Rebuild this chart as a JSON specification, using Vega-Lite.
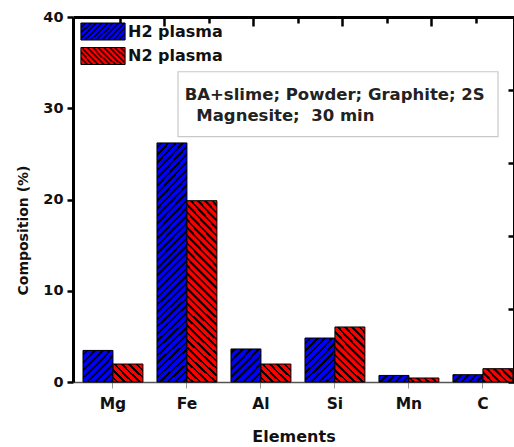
{
  "$schema": "https://vega.github.io/schema/vega-lite/v6.json",
  "width": 441,
  "height": 365,
  "autosize": {"type": "none"},
  "padding": {"left": 73, "top": 17, "right": 0, "bottom": 65},
  "config": {
    "view": {"stroke": null},
    "axis": {"grid": false}
  },
  "layer": [
    {
      "data": {
        "values": [
          {"Element": "Mg", "Plasma": "H2 plasma", "Composition": 3.46},
          {"Element": "Mg", "Plasma": "N2 plasma", "Composition": 1.97},
          {"Element": "Fe", "Plasma": "H2 plasma", "Composition": 26.2},
          {"Element": "Fe", "Plasma": "N2 plasma", "Composition": 19.87},
          {"Element": "Al", "Plasma": "H2 plasma", "Composition": 3.62},
          {"Element": "Al", "Plasma": "N2 plasma", "Composition": 1.97},
          {"Element": "Si", "Plasma": "H2 plasma", "Composition": 4.82},
          {"Element": "Si", "Plasma": "N2 plasma", "Composition": 6.03},
          {"Element": "Mn", "Plasma": "H2 plasma", "Composition": 0.72},
          {"Element": "Mn", "Plasma": "N2 plasma", "Composition": 0.44},
          {"Element": "C", "Plasma": "H2 plasma", "Composition": 0.8},
          {"Element": "C", "Plasma": "N2 plasma", "Composition": 1.46}
        ]
      },
      "mark": {"type": "bar", "stroke": "#000", "strokeWidth": 1},
      "encoding": {
        "x": {
          "field": "Element", "type": "nominal",
          "sort": ["Mg", "Fe", "Al", "Si", "Mn", "C"],
          "scale": {"paddingInner": 0.19, "paddingOuter": 0.075, "align": 0.9},
          "axis": {
            "title": "Elements", "labelAngle": 0,
            "labelFont": "DejaVu Sans", "labelFontWeight": "bold", "labelFontSize": 15.5, "labelColor": "#111", "labelPadding": 8,
            "tickSize": 6, "tickWidth": 1, "tickColor": "#999",
            "domainColor": "#555", "domainWidth": 1.5,
            "titleFont": "DejaVu Sans", "titleFontWeight": "bold", "titleFontSize": 16, "titleColor": "#111", "titlePadding": 17
          }
        },
        "xOffset": {"field": "Plasma", "type": "nominal", "sort": ["H2 plasma", "N2 plasma"]},
        "y": {
          "field": "Composition", "type": "quantitative",
          "scale": {"domain": [0, 40], "nice": false},
          "axis": {
            "title": "Composition (%)", "values": [0, 10, 20, 30, 40],
            "labelFont": "DejaVu Sans", "labelFontWeight": "bold", "labelFontSize": 14.5, "labelColor": "#111", "labelPadding": 4,
            "tickSize": 6, "tickWidth": 2.5, "tickColor": "#000",
            "domainColor": "#000", "domainWidth": 3,
            "titleFont": "DejaVu Sans", "titleFontWeight": "bold", "titleFontSize": 14, "titleColor": "#111", "titlePadding": 12, "titleY": 213
          }
        },
        "fill": {
          "field": "Plasma", "type": "nominal",
          "scale": {
            "domain": ["H2 plasma", "N2 plasma"],
            "range": [
              {"expr": "{gradient:'radial',x1:-6,y1:-6,r1:0,x2:-6,y2:-6,r2:10,stops:[{offset:0.87585,color:'#00f'},{offset:0.87585,color:'#000'},{offset:0.879,color:'#000'},{offset:0.879,color:'#00f'},{offset:0.88485,color:'#00f'},{offset:0.88485,color:'#000'},{offset:0.888,color:'#000'},{offset:0.888,color:'#00f'},{offset:0.89385,color:'#00f'},{offset:0.89385,color:'#000'},{offset:0.897,color:'#000'},{offset:0.897,color:'#00f'},{offset:0.90285,color:'#00f'},{offset:0.90285,color:'#000'},{offset:0.906,color:'#000'},{offset:0.906,color:'#00f'},{offset:0.91185,color:'#00f'},{offset:0.91185,color:'#000'},{offset:0.915,color:'#000'},{offset:0.915,color:'#00f'},{offset:0.92085,color:'#00f'},{offset:0.92085,color:'#000'},{offset:0.924,color:'#000'},{offset:0.924,color:'#00f'},{offset:0.92985,color:'#00f'},{offset:0.92985,color:'#000'},{offset:0.933,color:'#000'},{offset:0.933,color:'#00f'},{offset:0.93885,color:'#00f'},{offset:0.93885,color:'#000'},{offset:0.942,color:'#000'},{offset:0.942,color:'#00f'},{offset:0.94785,color:'#00f'},{offset:0.94785,color:'#000'},{offset:0.951,color:'#000'},{offset:0.951,color:'#00f'},{offset:0.95685,color:'#00f'},{offset:0.95685,color:'#000'},{offset:0.96,color:'#000'},{offset:0.96,color:'#00f'},{offset:0.96585,color:'#00f'},{offset:0.96585,color:'#000'}]}"},
              {"expr": "{gradient:'radial',x1:7,y1:-6,r1:0,x2:7,y2:-6,r2:10,stops:[{offset:0.87585,color:'#f00'},{offset:0.87585,color:'#000'},{offset:0.879,color:'#000'},{offset:0.879,color:'#f00'},{offset:0.88485,color:'#f00'},{offset:0.88485,color:'#000'},{offset:0.888,color:'#000'},{offset:0.888,color:'#f00'},{offset:0.89385,color:'#f00'},{offset:0.89385,color:'#000'},{offset:0.897,color:'#000'},{offset:0.897,color:'#f00'},{offset:0.90285,color:'#f00'},{offset:0.90285,color:'#000'},{offset:0.906,color:'#000'},{offset:0.906,color:'#f00'},{offset:0.91185,color:'#f00'},{offset:0.91185,color:'#000'},{offset:0.915,color:'#000'},{offset:0.915,color:'#f00'},{offset:0.92085,color:'#f00'},{offset:0.92085,color:'#000'},{offset:0.924,color:'#000'},{offset:0.924,color:'#f00'},{offset:0.92985,color:'#f00'},{offset:0.92985,color:'#000'},{offset:0.933,color:'#000'},{offset:0.933,color:'#f00'},{offset:0.93885,color:'#f00'},{offset:0.93885,color:'#000'},{offset:0.942,color:'#000'},{offset:0.942,color:'#f00'},{offset:0.94785,color:'#f00'},{offset:0.94785,color:'#000'},{offset:0.951,color:'#000'},{offset:0.951,color:'#f00'},{offset:0.95685,color:'#f00'},{offset:0.95685,color:'#000'},{offset:0.96,color:'#000'},{offset:0.96,color:'#f00'},{offset:0.96585,color:'#f00'},{offset:0.96585,color:'#000'}]}"}
            ]
          },
          "legend": {
            "orient": "none", "legendX": 21, "legendY": 5.5, "title": null, "padding": 0,
            "symbolType": "M-2.6,-1H2.6V1H-2.6Z", "symbolSize": 289,
            "symbolStrokeColor": "#000", "symbolStrokeWidth": 1, "symbolOpacity": 1,
            "labelFont": "DejaVu Sans", "labelFontWeight": "bold", "labelFontSize": 16, "labelColor": "#111",
            "labelOffset": 16, "rowPadding": 2.5
          },
          "condition": [
            {"test": "datum.Plasma === 'H2 plasma' && datum.Composition > 20", "value": {"gradient": "radial", "x1": -6, "y1": -6, "r1": 0, "x2": -6, "y2": -6, "r2": 10, "stops": [
              {"offset": 0.88093, "color": "#00f"}, {"offset": 0.88093, "color": "#000"}, {"offset": 0.8817, "color": "#000"}, {"offset": 0.8817, "color": "#00f"},
              {"offset": 0.88313, "color": "#00f"}, {"offset": 0.88313, "color": "#000"}, {"offset": 0.8839, "color": "#000"}, {"offset": 0.8839, "color": "#00f"},
              {"offset": 0.88533, "color": "#00f"}, {"offset": 0.88533, "color": "#000"}, {"offset": 0.8861, "color": "#000"}, {"offset": 0.8861, "color": "#00f"},
              {"offset": 0.88753, "color": "#00f"}, {"offset": 0.88753, "color": "#000"}, {"offset": 0.8883, "color": "#000"}, {"offset": 0.8883, "color": "#00f"},
              {"offset": 0.88973, "color": "#00f"}, {"offset": 0.88973, "color": "#000"}, {"offset": 0.8905, "color": "#000"}, {"offset": 0.8905, "color": "#00f"},
              {"offset": 0.89193, "color": "#00f"}, {"offset": 0.89193, "color": "#000"}, {"offset": 0.8927, "color": "#000"}, {"offset": 0.8927, "color": "#00f"},
              {"offset": 0.89413, "color": "#00f"}, {"offset": 0.89413, "color": "#000"}, {"offset": 0.8949, "color": "#000"}, {"offset": 0.8949, "color": "#00f"},
              {"offset": 0.89633, "color": "#00f"}, {"offset": 0.89633, "color": "#000"}, {"offset": 0.8971, "color": "#000"}, {"offset": 0.8971, "color": "#00f"},
              {"offset": 0.89853, "color": "#00f"}, {"offset": 0.89853, "color": "#000"}, {"offset": 0.8993, "color": "#000"}, {"offset": 0.8993, "color": "#00f"},
              {"offset": 0.90073, "color": "#00f"}, {"offset": 0.90073, "color": "#000"}, {"offset": 0.9015, "color": "#000"}, {"offset": 0.9015, "color": "#00f"},
              {"offset": 0.90293, "color": "#00f"}, {"offset": 0.90293, "color": "#000"}, {"offset": 0.9037, "color": "#000"}, {"offset": 0.9037, "color": "#00f"},
              {"offset": 0.90513, "color": "#00f"}, {"offset": 0.90513, "color": "#000"}, {"offset": 0.9059, "color": "#000"}, {"offset": 0.9059, "color": "#00f"},
              {"offset": 0.90733, "color": "#00f"}, {"offset": 0.90733, "color": "#000"}, {"offset": 0.9081, "color": "#000"}, {"offset": 0.9081, "color": "#00f"},
              {"offset": 0.90953, "color": "#00f"}, {"offset": 0.90953, "color": "#000"}, {"offset": 0.9103, "color": "#000"}, {"offset": 0.9103, "color": "#00f"},
              {"offset": 0.91173, "color": "#00f"}, {"offset": 0.91173, "color": "#000"}, {"offset": 0.9125, "color": "#000"}, {"offset": 0.9125, "color": "#00f"},
              {"offset": 0.91393, "color": "#00f"}, {"offset": 0.91393, "color": "#000"}, {"offset": 0.9147, "color": "#000"}, {"offset": 0.9147, "color": "#00f"},
              {"offset": 0.91613, "color": "#00f"}, {"offset": 0.91613, "color": "#000"}, {"offset": 0.9169, "color": "#000"}, {"offset": 0.9169, "color": "#00f"},
              {"offset": 0.91833, "color": "#00f"}, {"offset": 0.91833, "color": "#000"}, {"offset": 0.9191, "color": "#000"}, {"offset": 0.9191, "color": "#00f"},
              {"offset": 0.92053, "color": "#00f"}, {"offset": 0.92053, "color": "#000"}, {"offset": 0.9213, "color": "#000"}, {"offset": 0.9213, "color": "#00f"},
              {"offset": 0.92273, "color": "#00f"}, {"offset": 0.92273, "color": "#000"}, {"offset": 0.9235, "color": "#000"}, {"offset": 0.9235, "color": "#00f"},
              {"offset": 0.92493, "color": "#00f"}, {"offset": 0.92493, "color": "#000"}, {"offset": 0.9257, "color": "#000"}, {"offset": 0.9257, "color": "#00f"},
              {"offset": 0.92713, "color": "#00f"}, {"offset": 0.92713, "color": "#000"}, {"offset": 0.9279, "color": "#000"}, {"offset": 0.9279, "color": "#00f"},
              {"offset": 0.92933, "color": "#00f"}, {"offset": 0.92933, "color": "#000"}, {"offset": 0.9301, "color": "#000"}, {"offset": 0.9301, "color": "#00f"},
              {"offset": 0.93153, "color": "#00f"}, {"offset": 0.93153, "color": "#000"}, {"offset": 0.9323, "color": "#000"}, {"offset": 0.9323, "color": "#00f"},
              {"offset": 0.93373, "color": "#00f"}, {"offset": 0.93373, "color": "#000"}, {"offset": 0.9345, "color": "#000"}, {"offset": 0.9345, "color": "#00f"},
              {"offset": 0.93593, "color": "#00f"}, {"offset": 0.93593, "color": "#000"}, {"offset": 0.9367, "color": "#000"}, {"offset": 0.9367, "color": "#00f"},
              {"offset": 0.93813, "color": "#00f"}, {"offset": 0.93813, "color": "#000"}, {"offset": 0.9389, "color": "#000"}, {"offset": 0.9389, "color": "#00f"},
              {"offset": 0.94033, "color": "#00f"}, {"offset": 0.94033, "color": "#000"}, {"offset": 0.9411, "color": "#000"}, {"offset": 0.9411, "color": "#00f"},
              {"offset": 0.94253, "color": "#00f"}, {"offset": 0.94253, "color": "#000"}, {"offset": 0.9433, "color": "#000"}, {"offset": 0.9433, "color": "#00f"},
              {"offset": 0.94473, "color": "#00f"}, {"offset": 0.94473, "color": "#000"}, {"offset": 0.9455, "color": "#000"}, {"offset": 0.9455, "color": "#00f"},
              {"offset": 0.94693, "color": "#00f"}, {"offset": 0.94693, "color": "#000"}, {"offset": 0.9477, "color": "#000"}, {"offset": 0.9477, "color": "#00f"},
              {"offset": 0.94913, "color": "#00f"}, {"offset": 0.94913, "color": "#000"}, {"offset": 0.9499, "color": "#000"}, {"offset": 0.9499, "color": "#00f"},
              {"offset": 0.95133, "color": "#00f"}, {"offset": 0.95133, "color": "#000"}, {"offset": 0.9521, "color": "#000"}, {"offset": 0.9521, "color": "#00f"},
              {"offset": 0.95353, "color": "#00f"}, {"offset": 0.95353, "color": "#000"}, {"offset": 0.9543, "color": "#000"}, {"offset": 0.9543, "color": "#00f"},
              {"offset": 0.95573, "color": "#00f"}, {"offset": 0.95573, "color": "#000"}, {"offset": 0.9565, "color": "#000"}, {"offset": 0.9565, "color": "#00f"},
              {"offset": 0.95793, "color": "#00f"}, {"offset": 0.95793, "color": "#000"}, {"offset": 0.9587, "color": "#000"}, {"offset": 0.9587, "color": "#00f"},
              {"offset": 0.96013, "color": "#00f"}, {"offset": 0.96013, "color": "#000"}
            ]}},
            {"test": "datum.Plasma === 'N2 plasma' && datum.Composition > 15", "value": {"gradient": "radial", "x1": 7, "y1": -6, "r1": 0, "x2": 7, "y2": -6, "r2": 10, "stops": [
              {"offset": 0.87989, "color": "#f00"}, {"offset": 0.87989, "color": "#000"}, {"offset": 0.8809, "color": "#000"}, {"offset": 0.8809, "color": "#f00"},
              {"offset": 0.88279, "color": "#f00"}, {"offset": 0.88279, "color": "#000"}, {"offset": 0.8838, "color": "#000"}, {"offset": 0.8838, "color": "#f00"},
              {"offset": 0.88569, "color": "#f00"}, {"offset": 0.88569, "color": "#000"}, {"offset": 0.8867, "color": "#000"}, {"offset": 0.8867, "color": "#f00"},
              {"offset": 0.88859, "color": "#f00"}, {"offset": 0.88859, "color": "#000"}, {"offset": 0.8896, "color": "#000"}, {"offset": 0.8896, "color": "#f00"},
              {"offset": 0.89149, "color": "#f00"}, {"offset": 0.89149, "color": "#000"}, {"offset": 0.8925, "color": "#000"}, {"offset": 0.8925, "color": "#f00"},
              {"offset": 0.89439, "color": "#f00"}, {"offset": 0.89439, "color": "#000"}, {"offset": 0.8954, "color": "#000"}, {"offset": 0.8954, "color": "#f00"},
              {"offset": 0.89729, "color": "#f00"}, {"offset": 0.89729, "color": "#000"}, {"offset": 0.8983, "color": "#000"}, {"offset": 0.8983, "color": "#f00"},
              {"offset": 0.90019, "color": "#f00"}, {"offset": 0.90019, "color": "#000"}, {"offset": 0.9012, "color": "#000"}, {"offset": 0.9012, "color": "#f00"},
              {"offset": 0.90309, "color": "#f00"}, {"offset": 0.90309, "color": "#000"}, {"offset": 0.9041, "color": "#000"}, {"offset": 0.9041, "color": "#f00"},
              {"offset": 0.90599, "color": "#f00"}, {"offset": 0.90599, "color": "#000"}, {"offset": 0.907, "color": "#000"}, {"offset": 0.907, "color": "#f00"},
              {"offset": 0.90889, "color": "#f00"}, {"offset": 0.90889, "color": "#000"}, {"offset": 0.9099, "color": "#000"}, {"offset": 0.9099, "color": "#f00"},
              {"offset": 0.91179, "color": "#f00"}, {"offset": 0.91179, "color": "#000"}, {"offset": 0.9128, "color": "#000"}, {"offset": 0.9128, "color": "#f00"},
              {"offset": 0.91469, "color": "#f00"}, {"offset": 0.91469, "color": "#000"}, {"offset": 0.9157, "color": "#000"}, {"offset": 0.9157, "color": "#f00"},
              {"offset": 0.91759, "color": "#f00"}, {"offset": 0.91759, "color": "#000"}, {"offset": 0.9186, "color": "#000"}, {"offset": 0.9186, "color": "#f00"},
              {"offset": 0.92049, "color": "#f00"}, {"offset": 0.92049, "color": "#000"}, {"offset": 0.9215, "color": "#000"}, {"offset": 0.9215, "color": "#f00"},
              {"offset": 0.92339, "color": "#f00"}, {"offset": 0.92339, "color": "#000"}, {"offset": 0.9244, "color": "#000"}, {"offset": 0.9244, "color": "#f00"},
              {"offset": 0.92629, "color": "#f00"}, {"offset": 0.92629, "color": "#000"}, {"offset": 0.9273, "color": "#000"}, {"offset": 0.9273, "color": "#f00"},
              {"offset": 0.92919, "color": "#f00"}, {"offset": 0.92919, "color": "#000"}, {"offset": 0.9302, "color": "#000"}, {"offset": 0.9302, "color": "#f00"},
              {"offset": 0.93209, "color": "#f00"}, {"offset": 0.93209, "color": "#000"}, {"offset": 0.9331, "color": "#000"}, {"offset": 0.9331, "color": "#f00"},
              {"offset": 0.93499, "color": "#f00"}, {"offset": 0.93499, "color": "#000"}, {"offset": 0.936, "color": "#000"}, {"offset": 0.936, "color": "#f00"},
              {"offset": 0.93789, "color": "#f00"}, {"offset": 0.93789, "color": "#000"}, {"offset": 0.9389, "color": "#000"}, {"offset": 0.9389, "color": "#f00"},
              {"offset": 0.94079, "color": "#f00"}, {"offset": 0.94079, "color": "#000"}, {"offset": 0.9418, "color": "#000"}, {"offset": 0.9418, "color": "#f00"},
              {"offset": 0.94369, "color": "#f00"}, {"offset": 0.94369, "color": "#000"}, {"offset": 0.9447, "color": "#000"}, {"offset": 0.9447, "color": "#f00"},
              {"offset": 0.94659, "color": "#f00"}, {"offset": 0.94659, "color": "#000"}, {"offset": 0.9476, "color": "#000"}, {"offset": 0.9476, "color": "#f00"},
              {"offset": 0.94949, "color": "#f00"}, {"offset": 0.94949, "color": "#000"}, {"offset": 0.9505, "color": "#000"}, {"offset": 0.9505, "color": "#f00"},
              {"offset": 0.95239, "color": "#f00"}, {"offset": 0.95239, "color": "#000"}, {"offset": 0.9534, "color": "#000"}, {"offset": 0.9534, "color": "#f00"},
              {"offset": 0.95529, "color": "#f00"}, {"offset": 0.95529, "color": "#000"}, {"offset": 0.9563, "color": "#000"}, {"offset": 0.9563, "color": "#f00"},
              {"offset": 0.95819, "color": "#f00"}, {"offset": 0.95819, "color": "#000"}, {"offset": 0.9592, "color": "#000"}, {"offset": 0.9592, "color": "#f00"},
              {"offset": 0.96109, "color": "#f00"}, {"offset": 0.96109, "color": "#000"}
            ]}},
            {"test": "datum.Plasma === 'H2 plasma' && datum.Composition > 4", "value": {"gradient": "radial", "x1": -6, "y1": -6, "r1": 0, "x2": -6, "y2": -6, "r2": 10, "stops": [
              {"offset": 0.8668, "color": "#00f"}, {"offset": 0.8668, "color": "#000"}, {"offset": 0.871, "color": "#000"}, {"offset": 0.871, "color": "#00f"},
              {"offset": 0.8788, "color": "#00f"}, {"offset": 0.8788, "color": "#000"}, {"offset": 0.883, "color": "#000"}, {"offset": 0.883, "color": "#00f"},
              {"offset": 0.8908, "color": "#00f"}, {"offset": 0.8908, "color": "#000"}, {"offset": 0.895, "color": "#000"}, {"offset": 0.895, "color": "#00f"},
              {"offset": 0.9028, "color": "#00f"}, {"offset": 0.9028, "color": "#000"}, {"offset": 0.907, "color": "#000"}, {"offset": 0.907, "color": "#00f"},
              {"offset": 0.9148, "color": "#00f"}, {"offset": 0.9148, "color": "#000"}, {"offset": 0.919, "color": "#000"}, {"offset": 0.919, "color": "#00f"},
              {"offset": 0.9268, "color": "#00f"}, {"offset": 0.9268, "color": "#000"}, {"offset": 0.931, "color": "#000"}, {"offset": 0.931, "color": "#00f"},
              {"offset": 0.9388, "color": "#00f"}, {"offset": 0.9388, "color": "#000"}, {"offset": 0.943, "color": "#000"}, {"offset": 0.943, "color": "#00f"},
              {"offset": 0.9508, "color": "#00f"}, {"offset": 0.9508, "color": "#000"}, {"offset": 0.955, "color": "#000"}, {"offset": 0.955, "color": "#00f"},
              {"offset": 0.9628, "color": "#00f"}, {"offset": 0.9628, "color": "#000"}, {"offset": 0.967, "color": "#000"}, {"offset": 0.967, "color": "#00f"},
              {"offset": 0.9748, "color": "#00f"}, {"offset": 0.9748, "color": "#000"}
            ]}},
            {"test": "datum.Plasma === 'N2 plasma' && datum.Composition > 4", "value": {"gradient": "radial", "x1": 7, "y1": -6, "r1": 0, "x2": 7, "y2": -6, "r2": 10, "stops": [
              {"offset": 0.87024, "color": "#f00"}, {"offset": 0.87024, "color": "#000"}, {"offset": 0.8736, "color": "#000"}, {"offset": 0.8736, "color": "#f00"},
              {"offset": 0.87984, "color": "#f00"}, {"offset": 0.87984, "color": "#000"}, {"offset": 0.8832, "color": "#000"}, {"offset": 0.8832, "color": "#f00"},
              {"offset": 0.88944, "color": "#f00"}, {"offset": 0.88944, "color": "#000"}, {"offset": 0.8928, "color": "#000"}, {"offset": 0.8928, "color": "#f00"},
              {"offset": 0.89904, "color": "#f00"}, {"offset": 0.89904, "color": "#000"}, {"offset": 0.9024, "color": "#000"}, {"offset": 0.9024, "color": "#f00"},
              {"offset": 0.90864, "color": "#f00"}, {"offset": 0.90864, "color": "#000"}, {"offset": 0.912, "color": "#000"}, {"offset": 0.912, "color": "#f00"},
              {"offset": 0.91824, "color": "#f00"}, {"offset": 0.91824, "color": "#000"}, {"offset": 0.9216, "color": "#000"}, {"offset": 0.9216, "color": "#f00"},
              {"offset": 0.92784, "color": "#f00"}, {"offset": 0.92784, "color": "#000"}, {"offset": 0.9312, "color": "#000"}, {"offset": 0.9312, "color": "#f00"},
              {"offset": 0.93744, "color": "#f00"}, {"offset": 0.93744, "color": "#000"}, {"offset": 0.9408, "color": "#000"}, {"offset": 0.9408, "color": "#f00"},
              {"offset": 0.94704, "color": "#f00"}, {"offset": 0.94704, "color": "#000"}, {"offset": 0.9504, "color": "#000"}, {"offset": 0.9504, "color": "#f00"},
              {"offset": 0.95664, "color": "#f00"}, {"offset": 0.95664, "color": "#000"}, {"offset": 0.96, "color": "#000"}, {"offset": 0.96, "color": "#f00"},
              {"offset": 0.96624, "color": "#f00"}, {"offset": 0.96624, "color": "#000"}, {"offset": 0.9696, "color": "#000"}, {"offset": 0.9696, "color": "#f00"},
              {"offset": 0.97584, "color": "#f00"}, {"offset": 0.97584, "color": "#000"}
            ]}},
            {"test": "datum.Plasma === 'H2 plasma'", "value": {"gradient": "radial", "x1": -6, "y1": -6, "r1": 0, "x2": -6, "y2": -6, "r2": 10, "stops": [
              {"offset": 0.8574, "color": "#00f"}, {"offset": 0.8574, "color": "#000"}, {"offset": 0.8635, "color": "#000"}, {"offset": 0.8635, "color": "#00f"},
              {"offset": 0.8749, "color": "#00f"}, {"offset": 0.8749, "color": "#000"}, {"offset": 0.881, "color": "#000"}, {"offset": 0.881, "color": "#00f"},
              {"offset": 0.8924, "color": "#00f"}, {"offset": 0.8924, "color": "#000"}, {"offset": 0.8985, "color": "#000"}, {"offset": 0.8985, "color": "#00f"},
              {"offset": 0.9099, "color": "#00f"}, {"offset": 0.9099, "color": "#000"}, {"offset": 0.916, "color": "#000"}, {"offset": 0.916, "color": "#00f"},
              {"offset": 0.9274, "color": "#00f"}, {"offset": 0.9274, "color": "#000"}, {"offset": 0.9335, "color": "#000"}, {"offset": 0.9335, "color": "#00f"},
              {"offset": 0.9449, "color": "#00f"}, {"offset": 0.9449, "color": "#000"}, {"offset": 0.951, "color": "#000"}, {"offset": 0.951, "color": "#00f"},
              {"offset": 0.9624, "color": "#00f"}, {"offset": 0.9624, "color": "#000"}, {"offset": 0.9685, "color": "#000"}, {"offset": 0.9685, "color": "#00f"},
              {"offset": 0.9799, "color": "#00f"}, {"offset": 0.9799, "color": "#000"}, {"offset": 0.986, "color": "#000"}, {"offset": 0.986, "color": "#00f"},
              {"offset": 0.9974, "color": "#00f"}, {"offset": 0.9974, "color": "#000"}
            ]}},
            {"test": "datum.Plasma === 'N2 plasma'", "value": {"gradient": "radial", "x1": 7, "y1": -6, "r1": 0, "x2": 7, "y2": -6, "r2": 10, "stops": [
              {"offset": 0.8574, "color": "#f00"}, {"offset": 0.8574, "color": "#000"}, {"offset": 0.8635, "color": "#000"}, {"offset": 0.8635, "color": "#f00"},
              {"offset": 0.8749, "color": "#f00"}, {"offset": 0.8749, "color": "#000"}, {"offset": 0.881, "color": "#000"}, {"offset": 0.881, "color": "#f00"},
              {"offset": 0.8924, "color": "#f00"}, {"offset": 0.8924, "color": "#000"}, {"offset": 0.8985, "color": "#000"}, {"offset": 0.8985, "color": "#f00"},
              {"offset": 0.9099, "color": "#f00"}, {"offset": 0.9099, "color": "#000"}, {"offset": 0.916, "color": "#000"}, {"offset": 0.916, "color": "#f00"},
              {"offset": 0.9274, "color": "#f00"}, {"offset": 0.9274, "color": "#000"}, {"offset": 0.9335, "color": "#000"}, {"offset": 0.9335, "color": "#f00"},
              {"offset": 0.9449, "color": "#f00"}, {"offset": 0.9449, "color": "#000"}, {"offset": 0.951, "color": "#000"}, {"offset": 0.951, "color": "#f00"},
              {"offset": 0.9624, "color": "#f00"}, {"offset": 0.9624, "color": "#000"}, {"offset": 0.9685, "color": "#000"}, {"offset": 0.9685, "color": "#f00"},
              {"offset": 0.9799, "color": "#f00"}, {"offset": 0.9799, "color": "#000"}, {"offset": 0.986, "color": "#000"}, {"offset": 0.986, "color": "#f00"},
              {"offset": 0.9974, "color": "#f00"}, {"offset": 0.9974, "color": "#000"}
            ]}}
          ]
        }
      }
    },
    {
      "data": {"values": [{"line1": "BA+slime; Powder; Graphite; 2S", "line2": "Magnesite;\u00a0 30 min"}]},
      "layer": [
        {
          "mark": {"type": "rect", "fill": "#fff", "stroke": "#c8c8c8", "strokeWidth": 1.2},
          "encoding": {
            "x": {
              "datum": 1.31, "type": "quantitative",
              "scale": {"domain": [-1.05, 8.86], "nice": false, "zero": false},
              "axis": {
                "orient": "top", "values": [0, 1, 2, 3, 4, 5, 6, 7, 8], "labels": false, "title": null,
                "domainColor": "#000", "domainWidth": 3, "tickColor": "#000", "tickWidth": 2.5,
                "tickSize": {"condition": {"test": "datum.value % 2 === 1", "value": -9}, "value": -6}
              }
            },
            "x2": {"datum": 8.5},
            "y": {
              "datum": 34.0, "type": "quantitative",
              "scale": {"domain": [0, 40], "nice": false},
              "axis": {
                "orient": "right", "values": [0, 8, 16, 24, 32, 40], "labels": false, "title": null,
                "domainColor": "#000", "domainWidth": 3, "tickColor": "#000", "tickWidth": 2.5, "tickSize": -6
              }
            },
            "y2": {"datum": 26.9}
          }
        },
        {
          "mark": {"type": "text", "align": "left", "baseline": "alphabetic", "font": "DejaVu Sans", "fontWeight": "bold", "fontSize": 16.5, "fill": "#222"},
          "encoding": {
            "x": {"datum": 1.46, "type": "quantitative"},
            "y": {"datum": 30.95, "type": "quantitative"},
            "text": {"field": "line1"}
          }
        },
        {
          "mark": {"type": "text", "align": "left", "baseline": "alphabetic", "font": "DejaVu Sans", "fontWeight": "bold", "fontSize": 16.5, "fill": "#222"},
          "encoding": {
            "x": {"datum": 1.72, "type": "quantitative"},
            "y": {"datum": 28.55, "type": "quantitative"},
            "text": {"field": "line2"}
          }
        }
      ]
    }
  ],
  "resolve": {"scale": {"x": "independent"}, "axis": {"y": "independent"}}
}
